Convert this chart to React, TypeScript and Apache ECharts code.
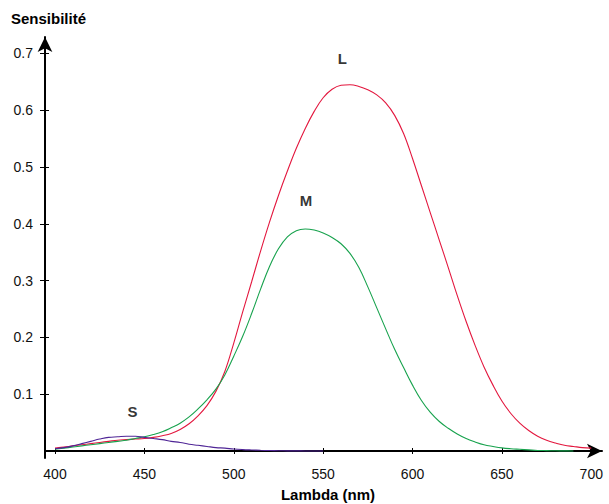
import React, { useEffect, useRef } from "react";
import * as echarts from "echarts";

// Wavelength grid (nm)
const wavelengths = [
  400, 405, 410, 415, 420, 425, 430, 435, 440, 445, 450, 455, 460, 465, 470,
  475, 480, 485, 490, 495, 500, 505, 510, 515, 520, 525, 530, 535, 540, 545,
  550, 555, 560, 565, 570, 575, 580, 585, 590, 595, 600, 605, 610, 615, 620,
  625, 630, 635, 640, 645, 650, 655, 660, 665, 670, 675, 680, 685, 690, 695, 700,
];

// L cones (red)
const sensL = [
  0.005, 0.007, 0.009, 0.011, 0.013, 0.015, 0.017, 0.019, 0.02, 0.021, 0.022,
  0.024, 0.027, 0.031, 0.038, 0.048, 0.062, 0.08, 0.105, 0.14, 0.19, 0.245,
  0.298, 0.352, 0.403, 0.45, 0.493, 0.533, 0.568, 0.598, 0.622, 0.637, 0.644,
  0.645, 0.642, 0.636, 0.627, 0.613, 0.591, 0.559, 0.515, 0.467, 0.419, 0.371,
  0.323, 0.274, 0.228, 0.186, 0.148, 0.116, 0.088, 0.066, 0.049, 0.036, 0.026,
  0.019, 0.014, 0.01, 0.008, 0.006, 0.005,
];

// M cones (green)
const sensM = [
  0.003, 0.005, 0.007, 0.009, 0.011, 0.013, 0.015, 0.017, 0.019, 0.022, 0.025,
  0.029, 0.034, 0.041, 0.049, 0.06, 0.074, 0.09, 0.109, 0.134, 0.167, 0.202,
  0.242, 0.285, 0.325, 0.356, 0.377, 0.388, 0.391, 0.389, 0.384, 0.376, 0.365,
  0.348, 0.323, 0.289, 0.252, 0.215, 0.179, 0.147, 0.116, 0.089, 0.068, 0.052,
  0.04, 0.03, 0.022, 0.016, 0.011, 0.008, 0.0055, 0.004, 0.003, 0.002, 0.001,
  0.0007, 0.0004, 0.0002, 0,
];

// S cones (purple)
const sensS = [
  0.004, 0.006, 0.009, 0.013, 0.017, 0.021, 0.024, 0.025, 0.026, 0.026, 0.024,
  0.022, 0.02, 0.017, 0.015, 0.012, 0.01, 0.008, 0.006, 0.005, 0.0035, 0.0025,
  0.0018, 0.0012, 0.0008, 0.0005, 0.0003, 0.0002, 0.0001, 0, 0,
];

const xTicks = [400, 450, 500, 550, 600, 650, 700];
const yTicks = [0.1, 0.2, 0.3, 0.4, 0.5, 0.6, 0.7];

const curveNames = ["L", "M", "S"];
const labelLambda = [560.7, 540.4, 443.3];
const labelValue = [0.691, 0.441, 0.069];

const X_MIN = 394.4;
const X_MAX = 706;
const Y_MIN = -0.0125;
const Y_MAX = 0.729;

const FONT = "'Liberation Sans', Arial, Helvetica, sans-serif";

export default function App() {
  const ref = useRef<HTMLDivElement>(null);

  useEffect(() => {
    if (!ref.current) return;
    const chart = echarts.init(ref.current, undefined, { renderer: "svg" });

    const toPairs = (arr: number[]) => arr.map((v, i) => [wavelengths[i], v]);

    const option: any = {
      animation: false,
      grid: { left: 45, top: 37, width: 557, height: 421.1, containLabel: false },
      xAxis: [
        {
          type: "value",
          min: X_MIN,
          max: X_MAX,
          axisLine: {
            show: true,
            onZero: true,
            symbol: ["none", "arrow"],
            symbolSize: [11, 15],
            lineStyle: { color: "#000", width: 2 },
          },
          axisTick: {
            show: true,
            length: 3,
            customValues: xTicks,
            lineStyle: { color: "#000", width: 1 },
          },
          axisLabel: {
            customValues: xTicks,
            margin: 9,
            color: "#111",
            fontSize: 14,
            fontFamily: FONT,
          },
          splitLine: { show: false },
        },
        {
          type: "value",
          min: X_MIN,
          max: X_MAX,
          position: "bottom",
          offset: -7.1,
          axisLine: { show: false, onZero: false },
          axisTick: {
            show: true,
            inside: true,
            length: 3,
            customValues: xTicks,
            lineStyle: { color: "#000", width: 1 },
          },
          axisLabel: { show: false },
          splitLine: { show: false },
        },
      ],
      yAxis: [
        {
          type: "value",
          min: Y_MIN,
          max: Y_MAX,
          axisLine: {
            show: true,
            onZero: false,
            symbol: ["none", "arrow"],
            symbolSize: [11, 15],
            lineStyle: { color: "#000", width: 2 },
          },
          axisTick: {
            show: true,
            length: 5,
            customValues: yTicks,
            lineStyle: { color: "#000", width: 1 },
          },
          axisLabel: {
            customValues: yTicks,
            margin: 12,
            color: "#111",
            fontSize: 14,
            fontFamily: FONT,
            formatter: (v: number) => v.toFixed(1),
          },
          splitLine: { show: false },
        },
        {
          type: "value",
          min: Y_MIN,
          max: Y_MAX,
          position: "left",
          axisLine: { show: false, onZero: false },
          axisTick: {
            show: true,
            inside: true,
            length: 4,
            customValues: yTicks,
            lineStyle: { color: "#000", width: 1 },
          },
          axisLabel: { show: false },
          splitLine: { show: false },
        },
      ],
      series: [
        {
          name: curveNames[0],
          type: "line",
          data: toPairs(sensL),
          showSymbol: false,
          smooth: 0.4,
          lineStyle: { color: "#e3173e", width: 1.1 },
          z: 3,
        },
        {
          name: curveNames[1],
          type: "line",
          data: toPairs(sensM),
          showSymbol: false,
          smooth: 0.4,
          lineStyle: { color: "#17a24d", width: 1.1 },
          z: 4,
        },
        {
          name: curveNames[2],
          type: "line",
          data: toPairs(sensS),
          showSymbol: false,
          smooth: 0.4,
          lineStyle: { color: "#4f2596", width: 1.1 },
          z: 5,
        },
        {
          name: "labels",
          type: "scatter",
          symbol: "circle",
          symbolSize: 2,
          itemStyle: { color: "transparent" },
          silent: true,
          data: curveNames.map((n, i) => ({ name: n, value: [labelLambda[i], labelValue[i]] })),
          label: {
            show: true,
            position: "inside",
            formatter: "{b}",
            color: "#000",
            fontWeight: "bold",
            fontSize: 15,
            fontFamily: FONT,
          },
          z: 6,
        },
      ],
      graphic: [
        {
          type: "text",
          left: 11,
          top: 11,
          style: {
            text: "Sensibilité",
            fill: "#000",
            font: `bold 15px ${FONT}`,
          },
        },
        {
          type: "text",
          x: 328,
          y: 494,
          style: {
            text: "Lambda (nm)",
            fill: "#000",
            font: `bold 15px ${FONT}`,
            textAlign: "center",
            textVerticalAlign: "middle",
          },
        },
      ],
    };

    chart.setOption(option);
    return () => chart.dispose();
  }, []);

  return (
    <div
      ref={ref}
      style={{ position: "absolute", left: 0, top: 0, width: 609, height: 504 }}
    />
  );
}
